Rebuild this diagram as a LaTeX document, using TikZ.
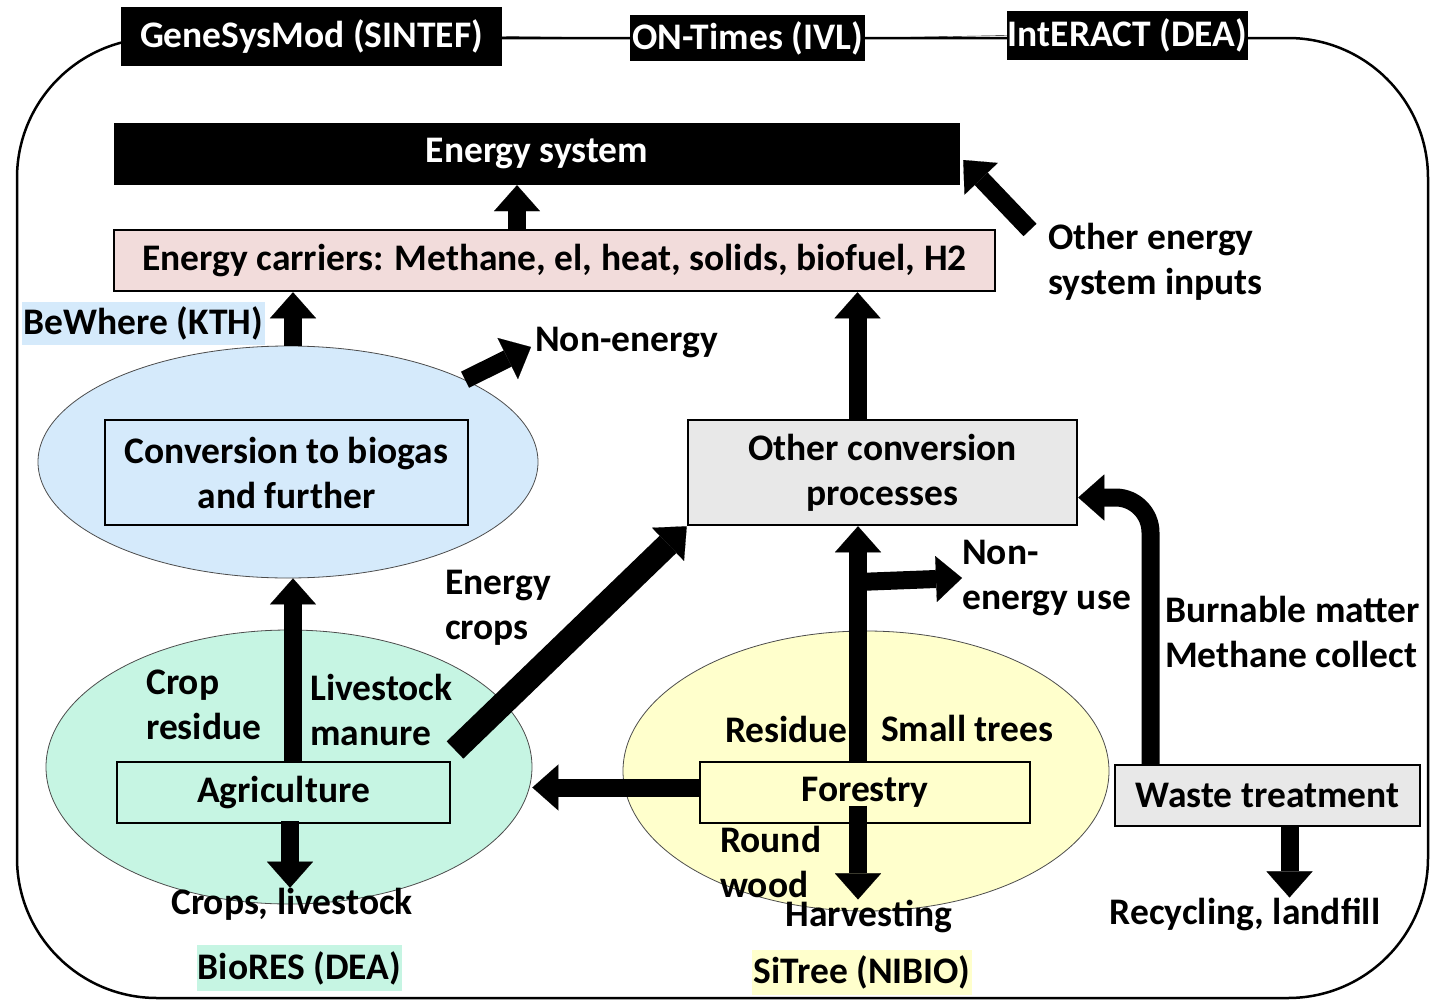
\documentclass[tikz,border=0pt]{standalone}
\usepackage{fontspec}
\setmainfont{Carlito}
\usetikzlibrary{arrows.meta,shapes.geometric}
\newcommand\dgfont{\fontsize{37.5}{45}\selectfont\bfseries}
\definecolor{carrierpink}{HTML}{F2DCDB}
\definecolor{biogasblue}{HTML}{D5EAFB}
\definecolor{agrimint}{HTML}{C6F5E3}
\definecolor{forestyellow}{HTML}{FFFFCC}
\definecolor{procgray}{HTML}{E8E8E8}

\begin{document}
\begin{tikzpicture}[
    x=1pt, y=-1pt,
    every node/.style={font=\dgfont, inner sep=0pt, align=center},
    header/.style={fill=black, text=white},
    procbox/.style={draw, line width=2.5pt},
    region/.style={ellipse, draw=black!70, line width=0.8pt},
    flow/.style={line width=18pt, -{Triangle[width=46pt,length=26pt,line width=0.1pt]}},
  ]
  \useasboundingbox (0,0) rectangle (1433,1001);
  % outer frame, the model headers sit on its top edge
  \draw[line width=2.5pt, rounded corners=140pt] (17,38) rectangle (1428,998);
  \node[header, minimum width=381, minimum height=59] (gsm) at (311.5,36.5) {GeneSysMod (SINTEF)};
  \node[header, minimum width=235, minimum height=46] (ont) at (747.5,38) {ON-Times (IVL)};
  \node[header, minimum width=241, minimum height=49] (iact) at (1127.5,35.5) {IntERACT (DEA)};

  % energy side
  \node[header, minimum width=846, minimum height=62] (es) at (537,154) {Energy system};
  \node[procbox, fill=carrierpink, minimum width=881, minimum height=61] (ec) at (554.5,260.5)
    {Energy carriers: Methane, el, heat, solids, biofuel, H2};
  \node[anchor=west, align=left] (oei) at (1048,262) {Other energy\\system inputs};
  \coordinate (oeis) at (1030,230);

  % model regions
  \node[region, fill=biogasblue, minimum width=500, minimum height=232] (bge) at (288,462) {};
  \node[region, fill=agrimint, minimum width=486, minimum height=274] (age) at (289,767) {};
  \node[region, fill=forestyellow, minimum width=486, minimum height=280] (fre) at (866,771) {};

  \node[fill=biogasblue, minimum width=243, minimum height=43] (bw) at (143.5,323.5) {BeWhere (KTH)};
  \node[fill=agrimint, minimum width=205, minimum height=46] (br) at (299.5,968) {BioRES (DEA)};
  \node[fill=forestyellow, minimum width=220, minimum height=45] (st) at (862,972.5) {SiTree (NIBIO)};

  % process boxes
  \node[procbox, fill=biogasblue, minimum width=363, minimum height=105] (bg) at (286.5,472.5)
    {Conversion to biogas\\and further};
  \node[procbox, fill=procgray, minimum width=389, minimum height=105] (ocp) at (882.5,472.5)
    {Other conversion\\processes};
  \node[procbox, fill=agrimint, minimum width=333, minimum height=61] (ag) at (283.5,792.5) {Agriculture};
  \node[procbox, fill=forestyellow, minimum width=330, minimum height=61] (fr) at (865,792.5) {Forestry};
  \node[procbox, fill=procgray, minimum width=305, minimum height=61] (wt) at (1267.5,795.5) {Waste treatment};

  % flow labels
  \node[anchor=west] (ne) at (535,343) {Non-energy};
  \node[anchor=west, align=left] (ecr) at (445,608) {Energy\\crops};
  \node[anchor=west, align=left] (cres) at (146,705) {Crop\\residue};
  \node[anchor=west, align=left] (lm) at (310,710) {Livestock\\manure};
  \node (cl) at (292,904) {Crops, livestock};
  \node[anchor=east] (res) at (848,729) {Residue};
  \node[anchor=west] (smt) at (881,728) {Small trees};
  \node[anchor=west, align=left] (rw) at (720,862) {Round\\wood};
  \node (hv) at (869,916) {Harvesting};
  \node[anchor=west, align=left] (neu) at (962,578) {Non-\\energy use};
  \node[anchor=west, align=left] (bm) at (1165,632) {Burnable matter\\Methane collect};
  \node (rl) at (1245,914) {Recycling, landfill};
  \coordinate (ecs) at (455,750);
  \coordinate (fb) at (858,582);

  % flows
  \draw (gsm.east) -- (ont.west);
  \draw (ont.east) -- (iact.west);
  \draw[flow] ([xshift=-20]es.south |- ec.north) -- ([xshift=-20]es.south);
  \draw[flow] (oeis) -- ([shift={(3,6)}]es.east);
  \draw[flow] (bge.north -| 293,0) -- (ec.south -| 293,0);
  \draw[flow] ([xshift=-25]ocp.north) -- ([xshift=-25]ocp.north |- ec.south);
  \draw[flow] (bge.north east) -- ([shift={(-4,4)}]ne.west);
  \draw[flow] (ag.north -| 293,0) -- (bge.south -| 293,0);
  \draw[flow, line width=24pt] (ecs) -- (ocp.south west);
  \draw[flow] ([xshift=-7]fr.north) -- ([xshift=-7]fr.north |- ocp.south);
  \draw[flow] (fb) -- (neu.west);
  \draw[flow] ([yshift=5]fr.west) -- ([yshift=5]fr.west -| age.east);
  \draw[flow] ([shift={(-7,13)}]fr.center) -- ([xshift=-7]fr.center |- hv.north);
  \draw[flow] ([yshift=3]ag.south -| 290,0) -- (cl.north -| 290,0);
  \draw[flow, rounded corners=35pt] ([xshift=-117]wt.north) |- ([yshift=-25]ocp.east);
  \draw[flow] ([xshift=22]wt.south) -- ([xshift=22]wt.south |- rl.north);
\end{tikzpicture}
\end{document}
